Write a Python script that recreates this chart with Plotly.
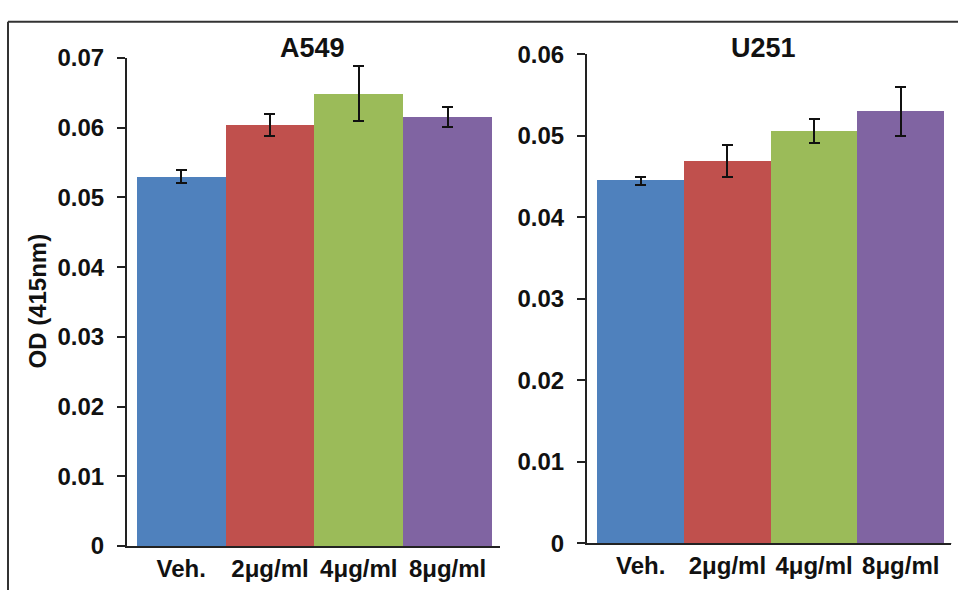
import plotly.graph_objects as go

categories = ["Veh.", "2μg/ml", "4μg/ml", "8μg/ml"]
colors = ["#4F81BD", "#C0504D", "#9BBB59", "#8064A2"]

a549_values = [0.0530, 0.0604, 0.0649, 0.0615]
a549_errors = [0.0010, 0.0016, 0.0040, 0.0014]

u251_values = [0.0445, 0.0469, 0.0506, 0.0530]
u251_errors = [0.0005, 0.0020, 0.0015, 0.0030]

W, H = 958, 603
FONT = "Liberation Sans, Arial, sans-serif"

fig = go.Figure()

fig.add_trace(go.Bar(
    x=categories, y=a549_values, marker=dict(color=colors, line=dict(width=0)),
    error_y=dict(type="data", array=a549_errors, color="#111", thickness=2, width=5.5),
    xaxis="x", yaxis="y", showlegend=False,
))
fig.add_trace(go.Bar(
    x=categories, y=u251_values, marker=dict(color=colors, line=dict(width=0)),
    error_y=dict(type="data", array=u251_errors, color="#111", thickness=2, width=5.5),
    xaxis="x2", yaxis="y2", showlegend=False,
))

def px_x(p):
    return p / W

def px_y(p):
    return 1 - p / H

axis_common = dict(
    showline=True, linecolor="#222", linewidth=2, showgrid=False, zeroline=False,
    tickfont=dict(family=FONT, size=24, color="#111"),
)

fig.update_layout(
    width=W, height=H,
    margin=dict(l=0, r=0, t=0, b=0),
    paper_bgcolor="white", plot_bgcolor="white",
    bargap=0,
    font=dict(family=FONT, color="#111"),
    xaxis=dict(domain=[px_x(127), px_x(500)], anchor="y", range=[-0.61, 3.59],
               ticks="", ticklabelstandoff=0, **axis_common),
    yaxis=dict(domain=[px_y(557), px_y(46)], anchor="x", range=[0, 0.07], dtick=0.01,
               ticks="outside", ticklen=8, tickwidth=2, tickcolor="#222",
               ticklabelstandoff=8, **axis_common),
    xaxis2=dict(domain=[px_x(587), px_x(951)], anchor="y2", range=[-0.62, 3.58],
                ticks="", ticklabelstandoff=0, **axis_common),
    yaxis2=dict(domain=[px_y(554.3), px_y(42.3)], anchor="x2", range=[0, 0.06], dtick=0.01,
                ticks="outside", ticklen=8, tickwidth=2, tickcolor="#222",
                ticklabelstandoff=8, **axis_common),
)

# y-axis title
fig.add_annotation(text="<b>OD (415nm)</b>", x=px_x(38), y=px_y(301), xref="paper", yref="paper",
                   xanchor="center", yanchor="middle",
                   showarrow=False, textangle=-90, font=dict(family=FONT, size=24, color="#111"))

# panel titles
fig.add_annotation(text="<b>A549</b>", x=px_x(312), y=px_y(36), xref="paper", yref="paper",
                   xanchor="center", yanchor="middle",
                   showarrow=False, font=dict(family=FONT, size=27, color="#111"))
fig.add_annotation(text="<b>U251</b>", x=px_x(763), y=px_y(36), xref="paper", yref="paper",
                   xanchor="center", yanchor="middle",
                   showarrow=False, font=dict(family=FONT, size=27, color="#111"))

# end tick marks on x axes
for xr, yr in (("x domain", "y"), ("x2 domain", "y2")):
    for xv in (0, 1):
        fig.add_shape(type="line", xref=xr, yref=yr, x0=xv, x1=xv,
                      ysizemode="pixel", yanchor=0, y0=0, y1=-9,
                      line=dict(color="#222", width=2))

# image frame (top and left edges)
fig.add_shape(type="line", xref="paper", yref="paper", x0=px_x(8), x1=1, y0=px_y(8), y1=px_y(8),
              line=dict(color="#333", width=2))
fig.add_shape(type="line", xref="paper", yref="paper", x0=px_x(8), x1=px_x(8), y0=0, y1=px_y(8),
              line=dict(color="#333", width=2))

# bold tick labels
fig.update_xaxes(ticktext=["<b>%s</b>" % c for c in categories], tickvals=categories)
fig.update_yaxes(tickprefix="<b>", ticksuffix="</b>")

fig.write_html("out.html")
